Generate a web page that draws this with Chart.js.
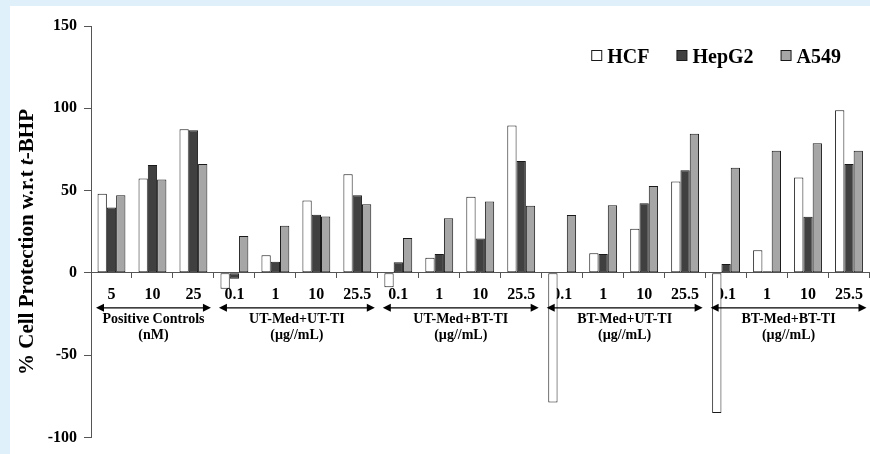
<!DOCTYPE html>
<html>
<head>
<meta charset="utf-8">
<script src="https://cdn.jsdelivr.net/npm/chart.js@4.4.1/dist/chart.umd.min.js"></script>
<style>
    html, body { margin: 0; padding: 0; background: #dff0fa; }
    #panel { position: absolute; left: 10px; top: 6px; right: 0; bottom: 0; background: #fff; }
    #wrap { position: absolute; left: 0; top: 0; width: 870px; height: 454px; }
</style>
</head>
<body>
<div id="panel"></div>
<div id="wrap"><canvas id="chart"></canvas></div>
<script>
// Data
const doseLabels = ['5', '10', '25',
    '0.1', '1', '10', '25.5',
    '0.1', '1', '10', '25.5',
    '0.1', '1', '10', '25.5',
    '0.1', '1', '10', '25.5'];

const hcf = [48, 57.3, 87.3, -9.7, 10.7, 44, 59.9, -8.7, 9.1, 46.2, 89.5,
    -78.8, 11.9, 26.8, 55.5, -85.1, 13.7, 57.9, 98.8];
const hepg2 = [39.7, 65.5, 86.7, -3.6, 6.8, 35.3, 47.2, 6.5, 11.5, 20.8, 67.9,
    0, 11.5, 42.3, 62.3, 5.3, 1, 34.1, 66.1];
const a549 = [47.2, 56.7, 66.1, 22.4, 28.6, 34.3, 41.7, 21.2, 33.1, 43.4, 40.7,
    35.1, 41.1, 52.8, 84.5, 63.9, 74.2, 78.8, 74.2];

const groupNames = ['Positive Controls', 'UT-Med+UT-TI', 'UT-Med+BT-TI', 'BT-Med+UT-TI', 'BT-Med+BT-TI'];
const groupUnits = ['(nM)', '(\u00b5g//mL)', '(\u00b5g//mL)', '(\u00b5g//mL)', '(\u00b5g//mL)'];
const groupSizes = [3, 4, 4, 4, 4];

const yTicks = [-100, -50, 0, 50, 100, 150];

const SERIF = '"Liberation Serif", "Times New Roman", serif';

function drawArrow(ctx, x1, x2, y) {
    ctx.beginPath();
    ctx.moveTo(x1 + 4, y);
    ctx.lineTo(x2 - 4, y);
    ctx.stroke();
    ctx.beginPath();
    ctx.moveTo(x1, y);
    ctx.lineTo(x1 + 8, y - 4);
    ctx.lineTo(x1 + 8, y + 4);
    ctx.closePath();
    ctx.fill();
    ctx.beginPath();
    ctx.moveTo(x2, y);
    ctx.lineTo(x2 - 8, y - 4);
    ctx.lineTo(x2 - 8, y + 4);
    ctx.closePath();
    ctx.fill();
}

// group arrows, y title and legend
const decorPlugin = {
    id: 'decor',
    afterDraw(chart) {
        const ctx = chart.ctx;
        const xs = chart.scales.x;
        const ys = chart.scales.y;
        const half = (xs.getPixelForValue(1) - xs.getPixelForValue(0)) / 2;
        const zeroY = ys.getPixelForValue(0);

        ctx.save();
        ctx.fillStyle = '#000';
        ctx.strokeStyle = '#000';
        ctx.lineWidth = 1.2;
        ctx.textAlign = 'center';
        ctx.textBaseline = 'alphabetic';
        ctx.font = 'bold 14px ' + SERIF;

        let start = 0;
        groupNames.forEach((name, i) => {
            const end = start + groupSizes[i] - 1;
            const x1 = xs.getPixelForValue(start) - half + 5;
            const x2 = Math.min(xs.getPixelForValue(end) + half - 3, chart.width - 1);
            drawArrow(ctx, x1, x2, zeroY + 35);
            const cx = (x1 + x2) / 2;
            ctx.fillText(name, cx, zeroY + 50.5);
            ctx.fillText(groupUnits[i], cx, zeroY + 66);
            start = end + 1;
        });

        // y axis title with italic t
        const parts = [
            ['% Cell Protection w.r.t ', 'bold 21px ' + SERIF],
            ['t', 'italic bold 21px ' + SERIF],
            ['-BHP', 'bold 21px ' + SERIF]
        ];
        let total = 0;
        parts.forEach(p => { ctx.font = p[1]; total += ctx.measureText(p[0]).width; });
        ctx.translate(33, 242);
        ctx.rotate(-Math.PI / 2);
        ctx.textAlign = 'left';
        let px = -total / 2;
        parts.forEach(p => {
            ctx.font = p[1];
            ctx.fillText(p[0], px, 0);
            px += ctx.measureText(p[0]).width;
        });
        ctx.restore();

        // legend, right aligned
        ctx.save();
        ctx.font = 'bold 20px ' + SERIF;
        ctx.textBaseline = 'alphabetic';
        ctx.textAlign = 'left';
        const sets = chart.data.datasets;
        let width = 0;
        sets.forEach((d, i) => {
            width += 16 + ctx.measureText(d.label).width + (i < sets.length - 1 ? 27 : 0);
        });
        let lx = 841 - width;
        sets.forEach(d => {
            ctx.fillStyle = d.backgroundColor;
            ctx.fillRect(lx + 0.5, 50.5, 10, 10);
            ctx.strokeStyle = '#1a1a1a';
            ctx.lineWidth = 1;
            ctx.strokeRect(lx + 0.5, 50.5, 10, 10);
            ctx.fillStyle = '#000';
            ctx.fillText(d.label, lx + 16, 63);
            lx += 16 + ctx.measureText(d.label).width + 27;
        });
        ctx.restore();
    }
};

const barStyle = {
    borderColor: '#1a1a1a',
    borderWidth: 1,
    borderSkipped: false,
    categoryPercentage: 0.68,
    barPercentage: 1.0
};

new Chart(document.getElementById('chart'), {
    type: 'bar',
    data: {
        labels: doseLabels,
        datasets: [
            Object.assign({ label: 'HCF', data: hcf, backgroundColor: '#ffffff' }, barStyle),
            Object.assign({ label: 'HepG2', data: hepg2, backgroundColor: '#404040' }, barStyle),
            Object.assign({ label: 'A549', data: a549, backgroundColor: '#a6a6a6' }, barStyle)
        ]
    },
    options: {
        responsive: true,
        maintainAspectRatio: false,
        animation: false,
        layout: { padding: { top: 26, bottom: 15, left: 0, right: 0 } },
        plugins: {
            legend: { display: false },
            tooltip: { enabled: false }
        },
        scales: {
            x: {
                position: { y: 0 },
                offset: true,
                grid: { drawOnChartArea: false, drawTicks: true, tickLength: 5, color: '#555', offset: true },
                border: { color: '#555', width: 1 },
                ticks: {
                    color: '#000',
                    font: { family: SERIF, size: 16, weight: 'bold' },
                    padding: 7,
                    maxRotation: 0,
                    autoSkip: false
                }
            },
            y: {
                min: yTicks[0],
                max: yTicks[yTicks.length - 1],
                afterBuildTicks(scale) { scale.ticks = yTicks.map(v => ({ value: v })); },
                afterFit(scale) { scale.width = 91; },
                grid: { drawOnChartArea: false, drawTicks: true, tickLength: 7, color: '#555' },
                border: { color: '#555', width: 1 },
                ticks: {
                    color: '#000',
                    font: { family: SERIF, size: 16, weight: 'bold' },
                    padding: 7
                }
            }
        }
    },
    plugins: [decorPlugin]
});
</script>
</body>
</html>
